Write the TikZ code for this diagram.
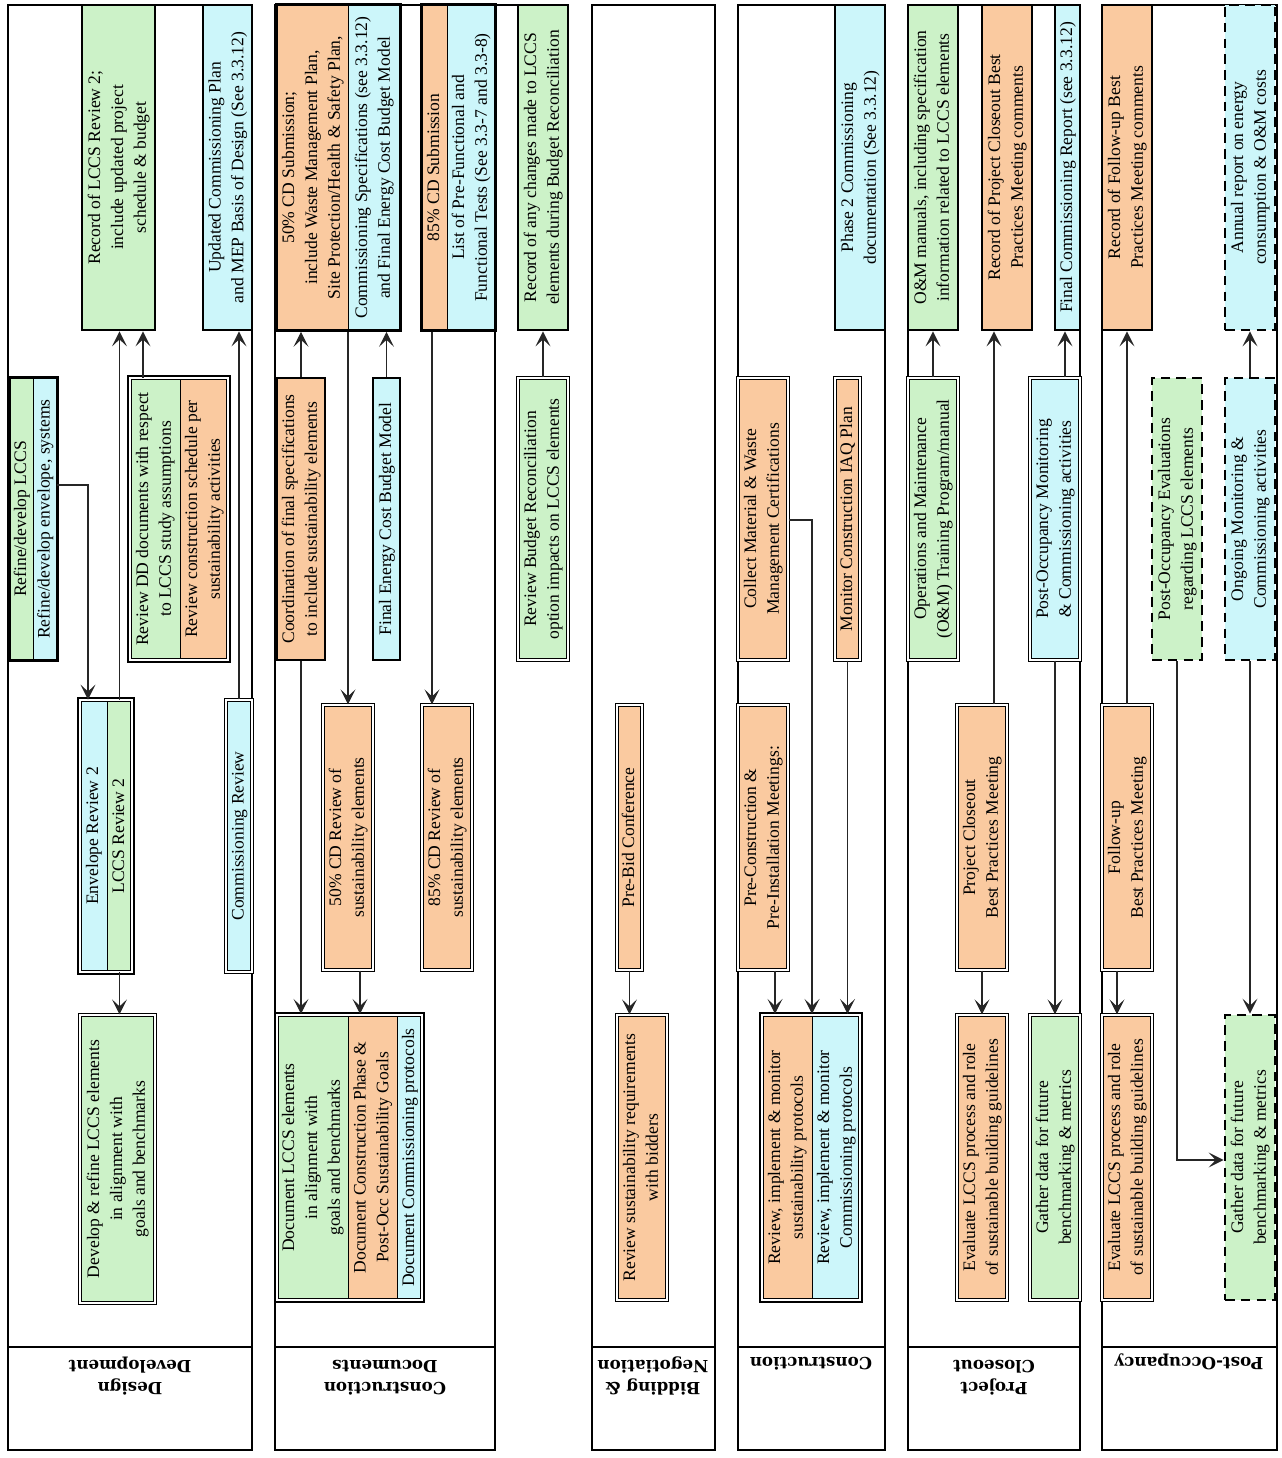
\documentclass[tikz,border=0pt]{standalone}
\usepackage{graphicx}
\usepackage{fontspec}
\setmainfont{Liberation Serif}
\newfontfamily\lanefont{DejaVu Serif}
\usetikzlibrary{arrows.meta,fit}

\definecolor{lgreen}{RGB}{204,242,200}
\definecolor{lblue}{RGB}{204,246,250}
\definecolor{lorange}{RGB}{250,202,160}

\newcommand{\uptext}[1]{\rotatebox{90}{\begin{tabular}{@{}c@{}}#1\end{tabular}}}
\newcommand{\lanetext}[1]{\rotatebox{180}{\begin{tabular}{@{}c@{}}#1\end{tabular}}}

\tikzset{
  part/.style={draw, line width=0.5pt, inner sep=0pt},
  outbox/.style={draw, line width=1.6pt, inner sep=0pt},
  actbox/.style={draw, double, double distance=1.1pt, line width=0.7pt, inner sep=0pt},
  futbox/.style={draw, line width=1.6pt, dash pattern=on 5.5pt off 3.5pt, inner sep=0pt},
  txt/.style={label={[inner sep=0pt]center:\uptext{#1}}},
  lanethick/.style={line width=1.6pt},
  lanethin/.style={line width=0.7pt},
  lanelabel/.style={font=\lanefont\bfseries\fontsize{9.5}{13}\selectfont},
  conn/.style={line width=0.7pt, black!85, -{Stealth[length=3mm,width=3mm,inset=1.4mm]}}
}

\begin{document}
\begin{tikzpicture}[x=0.02cm, y=-0.02cm, every node/.style={font=\fontsize{10}{13}\selectfont}]
    \useasboundingbox (0,0) rectangle (1282,1458);

    % Lanes
    \draw[lanethick] (8,5) rectangle (252,1450);
    \draw[lanethick] (8,1347) -- (252,1347);
    \draw[lanethin] (275,5) rectangle (495,1450);
    \draw[lanethin] (275,1347) -- (495,1347);
    \draw[lanethin] (495,5) -- (518,5);
    \draw[lanethick] (592,5) rectangle (715,1450);
    \draw[lanethick] (592,1347) -- (715,1347);
    \draw[lanethin] (738,5) rectangle (885,1450);
    \draw[lanethin] (738,1347) -- (885,1347);
    \draw[lanethick] (908,5) rectangle (1080,1450);
    \draw[lanethick] (908,1347) -- (1080,1347);
    \draw[lanethin] (1102,5) rectangle (1277,1450);
    \draw[lanethin] (1102,1347) -- (1277,1347);

    % Lane labels
    \node[lanelabel] (l1lab) at (130,1376) {\lanetext{Design\\Development}};
    \node[lanelabel] (l2lab) at (385,1376) {\lanetext{Construction\\Documents}};
    \node[lanelabel] (l3lab) at (653,1376) {\lanetext{Bidding \&\\Negotiation}};
    \node[lanelabel] (l4lab) at (811,1362) {\lanetext{Construction}};
    \node[lanelabel] (l5lab) at (994,1376) {\lanetext{Project\\Closeout}};
    \node[lanelabel] (l6lab) at (1189,1362) {\lanetext{Post-Occupancy}};

    % Design Development
    \node[part, fill=lgreen, fit={(10,378) (33,660)}, txt={Refine/develop LCCS}] (a1g) {};
    \node[part, fill=lblue, fit={(33,378) (57,660)}, txt={Refine/develop envelope, systems}] (a1b) {};
    \node[outbox, fit=(a1g)(a1b)] (a1) {};
    \node[outbox, fill=lgreen, fit={(82,5) (155,330)}, txt={Record of  LCCS Review 2;\\include updated project\\schedule \& budget}] (a2) {};
    \node[outbox, fill=lblue, fit={(203,5) (252,330)}, txt={Updated Commissioning Plan\\and MEP Basis of Design (See 3.3.12)}] (a3) {};
    \node[part, fill=lgreen, fit={(130,378) (180,660)}, txt={Review DD documents with respect\\to LCCS study assumptions}] (a4g) {};
    \node[part, fill=lorange, fit={(180,378) (228,660)}, txt={Review construction schedule per\\sustainability activities}] (a4o) {};
    \node[actbox, fit=(a4g)(a4o)] (a4) {};
    \node[part, fill=lblue, fit={(80,700) (107,972)}, txt={Envelope Review 2}] (a5b) {};
    \node[part, fill=lgreen, fit={(107,700) (132,972)}, txt={LCCS Review 2}] (a5g) {};
    \node[actbox, fit=(a5b)(a5g)] (a5) {};
    \node[actbox, fill=lblue, fit={(226,700) (252,972)}, txt={Commissioning Review}] (a6) {};
    \node[actbox, fill=lgreen, fit={(80,1015) (155,1303)}, txt={Develop \& refine LCCS elements\\in alignment with\\goals and benchmarks}] (a7) {};

    % Construction Documents
    \node[outbox, fill=lorange, fit={(277,378) (325,660)}, txt={Coordination of final specifications\\to include sustainability elements}] (b1) {};
    \node[part, fill=lorange, fit={(277,5) (348,330)}, txt={50\% CD Submission;\\include Waste Management Plan,\\Site Protection/Health \& Safety Plan,}] (b2o) {};
    \node[part, fill=lblue, fit={(348,5) (400,330)}, txt={Commissioning Specifications (see 3.3.12)\\and Final Energy Cost Budget Model}] (b2b) {};
    \node[outbox, fit=(b2o)(b2b)] (b2) {};
    \node[outbox, fill=lblue, fit={(373,378) (400,660)}, txt={Final Energy Cost Budget Model}] (b3) {};
    \node[part, fill=lorange, fit={(422,5) (447,330)}, txt={85\% CD Submission}] (b4o) {};
    \node[part, fill=lblue, fit={(447,5) (495,330)}, txt={List of Pre-Functional and\\Functional Tests (See 3.3-7 and 3.3-8)}] (b4b) {};
    \node[outbox, fit=(b4o)(b4b)] (b4) {};
    \node[actbox, fill=lorange, fit={(323,705) (373,970)}, txt={50\% CD Review of\\sustainability elements}] (b5) {};
    \node[actbox, fill=lorange, fit={(422,705) (472,970)}, txt={85\% CD Review of\\sustainability elements}] (b6) {};
    \node[part, fill=lgreen, fit={(277,1015) (348,1300)}, txt={Document LCCS elements\\in alignment with\\goals and benchmarks}] (b7g) {};
    \node[part, fill=lorange, fit={(348,1015) (397,1300)}, txt={Document Construction Phase \&\\Post-Occ Sustainability Goals}] (b7o) {};
    \node[part, fill=lblue, fit={(397,1015) (422,1300)}, txt={Document Commissioning protocols}] (b7b) {};
    \node[actbox, fit=(b7g)(b7b)] (b7) {};
    \node[outbox, fill=lgreen, fit={(518,5) (568,330)}, txt={Record of any changes made to LCCS\\elements during Budget Reconciliation}] (c1) {};
    \node[actbox, fill=lgreen, fit={(518,378) (568,660)}, txt={Review Budget Reconciliation\\option impacts on LCCS elements}] (c2) {};

    % Bidding & Negotiation
    \node[actbox, fill=lorange, fit={(617,705) (642,970)}, txt={Pre-Bid Conference}] (d1) {};
    \node[actbox, fill=lorange, fit={(617,1015) (667,1300)}, txt={Review sustainability requirements\\with bidders}] (d2) {};

    % Construction
    \node[outbox, fill=lblue, fit={(835,5) (885,330)}, txt={Phase 2 Commissioning\\documentation (See 3.3.12)}] (e1) {};
    \node[actbox, fill=lorange, fit={(738,378) (788,660)}, txt={Collect Material \& Waste\\Management Certifications}] (e2) {};
    \node[actbox, fill=lorange, fit={(835,378) (860,660)}, txt={Monitor Construction IAQ Plan}] (e3) {};
    \node[actbox, fill=lorange, fit={(738,705) (788,970)}, txt={Pre-Construction \&\\Pre-Installation Meetings:}] (e4) {};
    \node[part, fill=lorange, fit={(762,1015) (812,1300)}, txt={Review, implement \& monitor\\sustainability protocols}] (e5o) {};
    \node[part, fill=lblue, fit={(812,1015) (860,1300)}, txt={Review, implement \& monitor\\Commissioning protocols}] (e5b) {};
    \node[actbox, fit=(e5o)(e5b)] (e5) {};

    % Project Closeout
    \node[outbox, fill=lgreen, fit={(908,5) (958,330)}, txt={O\&M manuals, including specification\\information related to LCCS elements}] (f1) {};
    \node[outbox, fill=lorange, fit={(982,5) (1032,330)}, txt={Record of Project Closeout Best\\Practices Meeting comments}] (f2) {};
    \node[outbox, fill=lblue, fit={(1055,5) (1080,330)}, txt={Final Commissioning Report (see 3.3.12)}] (f3) {};
    \node[actbox, fill=lgreen, fit={(908,378) (958,660)}, txt={Operations and Maintenance\\(O\&M) Training Program/manual}] (f4) {};
    \node[actbox, fill=lblue, fit={(1030,378) (1080,660)}, txt={Post-Occupancy Monitoring\\\& Commissioning activities}] (f5) {};
    \node[actbox, fill=lorange, fit={(957,705) (1007,970)}, txt={Project Closeout\\Best Practices Meeting}] (f6) {};
    \node[actbox, fill=lorange, fit={(957,1015) (1007,1300)}, txt={Evaluate LCCS process and role\\of sustainable building guidelines}] (f7) {};
    \node[actbox, fill=lgreen, fit={(1030,1015) (1080,1300)}, txt={Gather data for future\\benchmarking \& metrics}] (f8) {};

    % Post-Occupancy
    \node[outbox, fill=lorange, fit={(1102,5) (1152,330)}, txt={Record of Follow-up Best\\Practices Meeting comments}] (g1) {};
    \node[futbox, fill=lblue, fit={(1225,5) (1275,330)}, txt={Annual report on energy\\consumption \& O\&M costs}] (g2) {};
    \node[futbox, fill=lgreen, fit={(1152,378) (1202,660)}, txt={Post-Occupancy Evaluations\\regarding LCCS elements}] (g3) {};
    \node[futbox, fill=lblue, fit={(1225,378) (1275,660)}, txt={Ongoing Monitoring \&\\Commissioning activities}] (g4) {};
    \node[actbox, fill=lorange, fit={(1102,705) (1152,970)}, txt={Follow-up\\Best Practices Meeting}] (g5) {};
    \node[actbox, fill=lorange, fit={(1102,1015) (1152,1300)}, txt={Evaluate LCCS process and role\\of sustainable building guidelines}] (g6) {};
    \node[futbox, fill=lgreen, fit={(1225,1015) (1275,1300)}, txt={Gather data for future\\benchmarking \& metrics}] (g7) {};

    % Connectors
    \draw[conn] (a1b.east |- 0,485) -| (88,0 |- a5b.north);
    \draw[conn] (a5g.north) -- (a5g.north |- a2.south);
    \draw[conn] (143,0 |- a4g.north) -- (143,0 |- a2.south);
    \draw[conn] (a5g.south) -- (a5g.south |- a7.north);
    \draw[conn] (a6.north) -- (a6.north |- a3.south);

    \draw[conn] (b1.north) -- (b1.north |- b2.south);
    \draw[conn] (b1.south) -- (b1.south |- b7.north);
    \draw[conn] (b5.north |- b2.south) -- (b5.north);
    \draw[conn] (b3.north) -- (b3.north |- b2.south);
    \draw[conn] (432,0 |- b4.south) -- (432,0 |- b6.north);
    \draw[conn] (360,0 |- b5.south) -- (360,0 |- b7.north);
    \draw[conn] (c2.north) -- (c2.north |- c1.south);

    \draw[conn] (d1.south) -- (d1.south |- d2.north);

    \draw[conn] (e2.east |- 0,520) -| (812,0 |- e5.north);
    \draw[conn] (e3.south) -- (e3.south |- e5.north);
    \draw[conn] (775,0 |- e4.south) -- (775,0 |- e5.north);

    \draw[conn] (f4.north) -- (f4.north |- f1.south);
    \draw[conn] (994,0 |- f6.north) -- (994,0 |- f2.south);
    \draw[conn] (1065,0 |- f5.north) -- (1065,0 |- f3.south);
    \draw[conn] (f6.south) -- (f6.south |- f7.north);
    \draw[conn] (f5.south) -- (f5.south |- f8.north);

    \draw[conn] (g5.north) -- (g5.north |- g1.south);
    \draw[conn] (1117,0 |- g5.south) -- (1117,0 |- g6.north);
    \draw[conn] (g4.north) -- (g4.north |- g2.south);
    \draw[conn] (g3.south) |- (g7.west |- 0,1160);
    \draw[conn] (g4.south) -- (g4.south |- g7.north);
\end{tikzpicture}
\end{document}
